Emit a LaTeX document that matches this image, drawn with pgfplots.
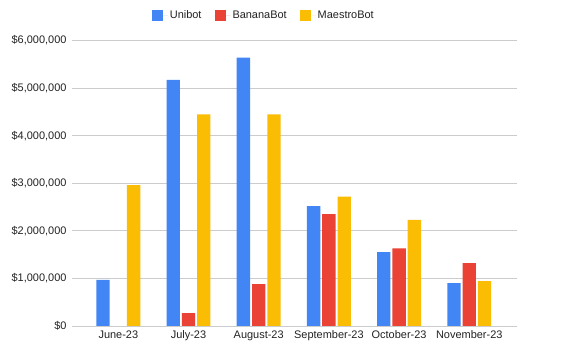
\documentclass[border=0pt]{standalone}
\usepackage{pgfplots}
\pgfplotsset{compat=1.18}
\usepackage{fontspec}
\setmainfont{Liberation Sans}
\definecolor{cuni}{HTML}{4285F4}
\definecolor{cban}{HTML}{EA4335}
\definecolor{cmae}{HTML}{FBBC04}
\definecolor{cgrid}{HTML}{CCCCCC}
\definecolor{ctxt}{HTML}{222222}
\begin{document}
\begin{tikzpicture}
\begin{axis}[
  name=ax,
  scale only axis,
  width=445bp, height=285.5bp,
  xmin=-0.66, xmax=5.68,
  ymin=0, ymax=6000000,
  scaled y ticks=false,
  axis line style={draw=none},
  ytick={0,1000000,2000000,3000000,4000000,5000000,6000000},
  yticklabels={{\$0},{\$1,000,000},{\$2,000,000},{\$3,000,000},{\$4,000,000},{\$5,000,000},{\$6,000,000}},
  xtick={0,1,2,3,4,5},
  xticklabels={June-23,July-23,August-23,September-23,October-23,November-23},
  major tick length=0pt,
  ymajorgrids,
  grid style={cgrid, line width=0.7pt},
  tick label style={font=\fontsize{11}{13}\selectfont, text=ctxt},
  yticklabel style={xshift=-2bp},
  xticklabel style={yshift=-1bp},
  ybar,
  bar width=0.19,
  legend columns=3,
  legend style={at={(0.431,1.087)}, anchor=center, draw=none, fill=none,
    font=\fontsize{11}{13}\selectfont, text=ctxt,
    /tikz/every even column/.append style={column sep=11bp}},
  legend image code/.code={\fill[#1] (0bp,-5.5bp) rectangle (11bp,5.5bp); \path (0bp,0bp) -- (16bp,0bp);},
]
\addplot[fill=cuni, draw=none, bar shift=-0.218] coordinates {(0,970000) (1,5170000) (2,5640000) (3,2520000) (4,1550000) (5,900000)};
\addlegendentry{Unibot}
\addplot[fill=cban, draw=none, bar shift=0] coordinates {(1,270000) (2,880000) (3,2350000) (4,1630000) (5,1320000)};
\addlegendentry{BananaBot}
\addplot[fill=cmae, draw=none, bar shift=0.218] coordinates {(0,2960000) (1,4450000) (2,4450000) (3,2720000) (4,2230000) (5,945000)};
\addlegendentry{MaestroBot}
\draw[black!75, line width=0.8pt] (rel axis cs:0,0) -- (rel axis cs:1,0);
\end{axis}
\pgfresetboundingbox
\path[use as bounding box] ([xshift=-72bp,yshift=-25bp]ax.south west) rectangle ([xshift=66bp,yshift=40.5bp]ax.north east);
\end{tikzpicture}
\end{document}
